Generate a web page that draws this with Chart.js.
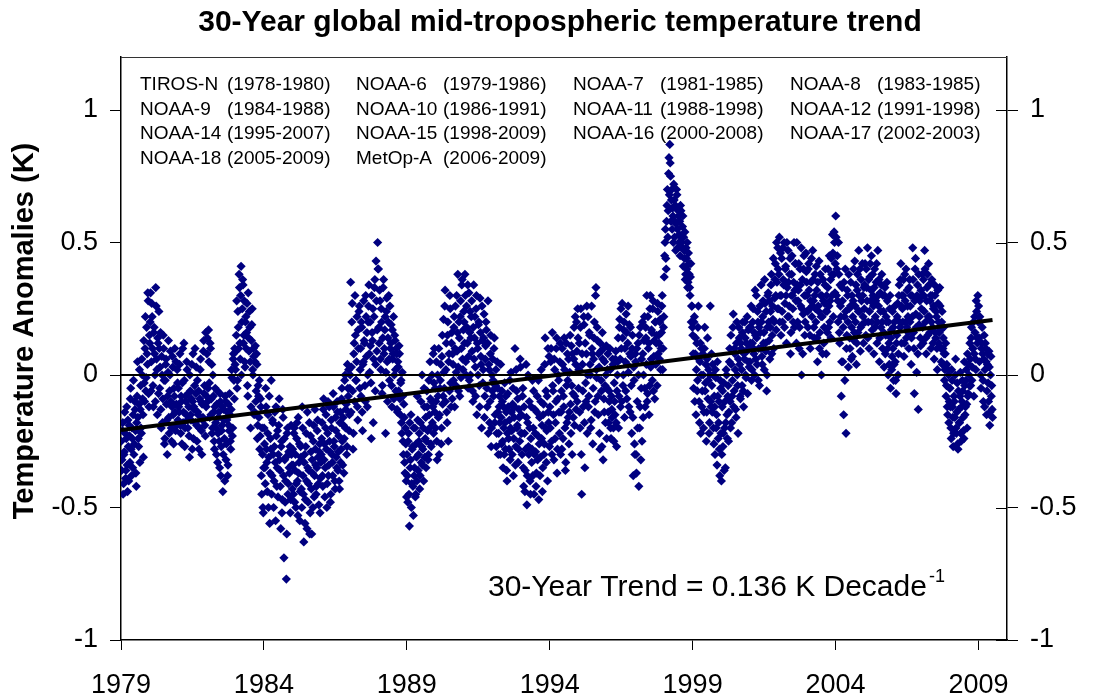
<!DOCTYPE html>
<html>
<head>
<meta charset="utf-8">
<title>30-Year global mid-tropospheric temperature trend</title>
<script src="https://cdn.jsdelivr.net/npm/chart.js@4"></script>
<style>
  html, body { margin: 0; padding: 0; background: #fff; }
</style>
</head>
<body>
<canvas id="myChart" width="1097" height="700"></canvas>
<script>
// MSU mid-troposphere anomalies (K), pentad values.
// yNNNN holds the odd pentads of a year, hNNNN the even ones.
const y1979 = [-0.25,-0.32,-0.18,-0.41,-0.29,-0.22,-0.36,-0.12,-0.44,-0.27,-0.19,-0.33,
  -0.05,-0.38,-0.24,-0.15,-0.30,-0.10,-0.21,-0.42,-0.08,-0.16,-0.27,0.02,
  -0.13,-0.20,0.06,-0.09,-0.31,-0.03,0.10,-0.06,0.18,0.04,0.28,-0.12];
const h1979 = [-0.36,-0.21,-0.45,-0.30,-0.14,-0.39,-0.24,-0.34,-0.17,-0.40,-0.23,-0.09,
  -0.28,-0.20,-0.35,-0.02,-0.26,-0.13,-0.37,-0.18,0.05,-0.24,-0.11,-0.33,
  -0.04,-0.22,0.00,-0.15,0.13,-0.10,0.22,-0.01,0.08,0.31,-0.07,0.15];
const y1980 = [0.12,0.31,0.05,0.22,-0.04,0.16,0.08,-0.10,0.26,0.02,0.14,-0.07,
  0.10,0.03,-0.13,0.07,-0.18,0.15,-0.02,-0.24,0.04,-0.11,-0.30,0.01,
  -0.16,-0.06,0.09,-0.20,-0.12,0.03,-0.26,-0.08,-0.14,0.05,-0.19,-0.03];
const h1980 = [0.20,-0.06,0.27,0.10,-0.12,0.18,0.00,0.33,0.06,-0.15,0.12,0.24,
  -0.05,0.16,-0.20,0.00,-0.09,0.10,-0.26,-0.02,0.06,-0.17,-0.08,0.13,
  -0.22,0.00,-0.10,-0.25,0.07,-0.15,-0.05,0.10,-0.21,-0.11,0.02,-0.17];
const y1981 = [-0.05,-0.14,0.08,-0.22,-0.10,-0.03,-0.18,0.12,-0.27,-0.08,-0.15,0.02,
  -0.20,-0.12,-0.31,-0.06,-0.17,0.04,-0.10,-0.24,-0.13,0.10,-0.07,-0.19,
  -0.02,-0.15,-0.28,-0.09,0.06,-0.21,-0.11,-0.16,0.13,-0.04,-0.23,-0.12];
const h1981 = [-0.12,0.04,-0.19,-0.08,-0.26,0.10,-0.14,-0.02,-0.20,-0.10,0.05,-0.17,
  -0.07,-0.23,0.00,-0.15,-0.09,-0.28,0.08,-0.12,-0.04,-0.18,0.03,-0.25,
  -0.14,-0.06,-0.20,0.02,-0.10,-0.30,-0.17,0.09,-0.07,-0.19,0.16,-0.08];
const y1982 = [0.08,-0.10,0.17,-0.03,0.12,-0.15,0.04,-0.20,-0.08,-0.25,-0.12,-0.18,
  -0.30,-0.06,-0.22,-0.14,-0.35,-0.10,-0.27,-0.19,-0.44,-0.13,-0.24,-0.08,
  -0.32,-0.17,-0.38,-0.11,-0.21,-0.15,-0.28,0.02,-0.23,0.06,-0.02,0.10];
const h1982 = [0.14,-0.05,0.05,-0.16,0.10,-0.09,-0.22,0.00,-0.14,-0.28,-0.05,-0.20,
  -0.11,-0.33,-0.16,-0.25,-0.07,-0.38,-0.21,-0.12,-0.30,-0.17,-0.40,-0.10,
  -0.26,-0.14,-0.34,-0.19,-0.07,-0.25,-0.13,-0.01,-0.20,0.08,-0.09,0.04];
const y1983 = [0.02,0.15,-0.05,0.24,0.10,0.33,0.06,0.41,0.20,0.36,0.12,0.28,
  0.03,0.22,0.16,-0.04,0.31,0.09,0.18,-0.20,0.13,0.25,0.00,0.07,
  -0.14,0.11,-0.06,0.04,-0.19,-0.08,-0.02,-0.23,-0.12,-0.45,-0.30,-0.52];
const h1983 = [0.09,0.28,-0.02,0.18,0.38,0.12,0.30,0.00,0.25,0.34,0.15,0.05,
  0.20,0.10,0.27,-0.08,0.14,0.24,0.05,-0.12,0.19,0.02,0.10,-0.15,
  0.05,-0.10,0.08,-0.24,-0.04,-0.16,-0.28,-0.09,-0.38,-0.20,-0.50,-0.35];
const y1984 = [-0.20,-0.35,-0.05,-0.28,-0.44,-0.15,-0.31,-0.56,-0.24,-0.02,-0.38,-0.18,
  -0.50,-0.27,-0.33,-0.12,-0.42,-0.21,-0.30,-0.09,-0.36,-0.58,-0.25,-0.47,
  -0.16,-0.69,-0.32,-0.40,-0.77,-0.22,-0.45,-0.29,-0.37,-0.52,-0.19,-0.34];
const h1984 = [-0.26,-0.41,-0.12,-0.33,-0.22,-0.50,-0.08,-0.37,-0.28,-0.45,-0.17,-0.30,
  -0.40,-0.14,-0.55,-0.23,-0.35,-0.46,-0.19,-0.32,-0.42,-0.27,-0.52,-0.13,
  -0.38,-0.24,-0.48,-0.31,-0.60,-0.20,-0.41,-0.35,-0.27,-0.47,-0.30,-0.43];
const y1985 = [-0.28,-0.45,-0.20,-0.36,-0.50,-0.24,-0.40,-0.16,-0.33,-0.55,-0.27,-0.43,
  -0.12,-0.38,-0.63,-0.30,-0.47,-0.22,-0.58,-0.35,-0.41,-0.18,-0.52,-0.29,
  -0.60,-0.37,-0.25,-0.46,-0.13,-0.34,-0.42,-0.21,-0.31,-0.49,-0.26,-0.39];
const h1985 = [-0.34,-0.22,-0.48,-0.30,-0.41,-0.18,-0.53,-0.37,-0.26,-0.44,-0.31,-0.50,
  -0.20,-0.45,-0.33,-0.56,-0.27,-0.40,-0.14,-0.48,-0.36,-0.60,-0.23,-0.43,
  -0.32,-0.50,-0.19,-0.38,-0.28,-0.45,-0.35,-0.17,-0.41,-0.29,-0.52,-0.33];
const y1986 = [-0.30,-0.18,-0.42,-0.09,-0.26,-0.35,-0.15,-0.50,-0.22,-0.38,-0.12,-0.29,
  -0.45,-0.20,-0.33,-0.07,-0.25,-0.40,-0.16,-0.31,-0.10,-0.36,-0.23,-0.43,
  -0.14,-0.28,-0.05,-0.34,-0.19,-0.24,0.00,-0.13,-0.30,0.04,-0.08,-0.21];
const h1986 = [-0.24,-0.38,-0.13,-0.32,-0.46,-0.20,-0.28,-0.41,-0.10,-0.34,-0.25,-0.48,
  -0.17,-0.30,-0.38,-0.12,-0.27,-0.43,-0.21,-0.35,-0.14,-0.29,-0.40,-0.18,
  -0.33,-0.09,-0.25,-0.16,-0.37,-0.02,-0.20,-0.11,-0.27,-0.05,0.02,-0.15];
const y1987 = [-0.05,0.35,0.03,0.27,-0.28,0.08,-0.10,0.15,-0.02,0.22,-0.17,0.10,
  0.26,0.02,-0.08,0.18,-0.21,0.05,0.13,-0.04,0.30,0.07,-0.12,0.20,
  0.34,0.01,0.11,-0.24,0.16,0.25,0.06,0.33,-0.06,0.43,0.09,0.50];
const h1987 = [0.00,-0.14,0.20,-0.06,-0.22,0.12,0.30,-0.02,0.05,-0.12,0.17,0.24,
  -0.05,0.10,0.20,-0.14,0.04,0.28,0.12,-0.10,0.22,0.16,0.00,0.26,
  0.08,0.20,-0.03,0.30,0.13,-0.18,0.22,0.36,0.04,0.28,0.17,0.40];
const y1988 = [0.40,0.12,0.28,0.02,0.20,-0.04,0.33,0.08,0.17,-0.22,0.24,0.05,
  0.14,0.30,-0.02,0.10,0.19,-0.12,0.06,0.22,0.00,0.13,-0.06,0.08,
  -0.14,0.03,0.11,-0.09,-0.03,-0.18,0.01,-0.25,-0.11,-0.33,-0.20,-0.40];
const h1988 = [0.18,0.32,0.06,0.25,-0.07,0.14,0.36,0.10,0.22,0.01,0.29,-0.10,
  0.20,0.06,0.26,0.12,-0.04,0.17,0.08,-0.09,0.15,0.02,0.10,-0.13,
  0.05,-0.06,0.08,-0.15,-0.02,-0.22,-0.08,-0.30,-0.16,-0.37,-0.26,-0.46];
const y1989 = [-0.30,-0.48,-0.22,-0.57,-0.35,-0.15,-0.41,-0.27,-0.53,-0.38,-0.20,-0.45,
  -0.31,-0.08,-0.36,-0.25,-0.43,-0.18,-0.33,0.00,-0.28,-0.40,-0.12,-0.24,
  -0.35,-0.06,-0.21,-0.30,-0.15,0.05,-0.26,-0.10,-0.18,0.08,-0.03,-0.14];
const h1989 = [-0.38,-0.25,-0.45,-0.18,-0.32,-0.50,-0.28,-0.42,-0.20,-0.35,-0.46,-0.26,
  -0.40,-0.17,-0.30,-0.22,-0.38,-0.10,-0.27,-0.34,-0.20,-0.05,-0.31,-0.16,
  -0.25,-0.12,-0.32,-0.02,-0.20,-0.09,-0.27,0.00,-0.12,-0.22,0.10,-0.05];
const y1990 = [-0.20,0.05,-0.32,-0.08,0.10,-0.15,-0.02,-0.26,0.07,-0.11,0.21,-0.05,
  0.32,0.02,-0.14,0.15,-0.25,0.08,0.30,-0.03,0.12,-0.09,0.04,0.18,
  -0.12,0.26,0.01,0.09,0.38,-0.06,0.14,0.22,-0.01,0.34,0.06,0.17];
const h1990 = [-0.10,-0.25,0.00,-0.16,-0.30,-0.05,0.04,-0.20,0.15,-0.08,0.01,0.26,
  -0.10,0.12,-0.18,0.20,0.05,-0.06,0.25,-0.12,0.16,0.08,-0.02,0.22,
  0.10,-0.04,0.30,0.16,0.03,0.20,-0.08,0.28,0.10,0.36,0.02,0.24];
const y1991 = [0.20,0.38,0.05,0.26,0.12,-0.05,0.31,0.16,0.00,0.22,0.09,-0.10,
  0.34,0.14,0.03,0.25,-0.15,0.10,0.19,-0.04,0.29,0.07,-0.20,0.13,
  0.02,0.23,-0.08,0.11,0.17,-0.12,0.28,0.04,-0.18,0.08,-0.27,0.00];
const h1991 = [0.12,0.30,0.00,0.18,0.34,0.07,-0.02,0.24,0.14,0.28,-0.06,0.18,
  0.06,0.22,-0.08,0.30,0.12,0.00,0.20,-0.12,0.16,0.04,0.26,-0.03,
  0.14,-0.16,0.06,0.20,-0.05,0.12,-0.22,0.02,-0.10,0.15,-0.20,-0.06];
const y1992 = [0.06,-0.08,0.14,-0.15,0.02,-0.22,-0.05,-0.30,-0.12,-0.18,0.04,-0.26,
  -0.10,-0.35,-0.20,-0.03,-0.28,-0.14,-0.40,-0.07,-0.24,-0.17,-0.32,0.01,
  -0.21,-0.11,-0.38,-0.16,0.10,-0.27,-0.06,-0.19,-0.33,-0.13,-0.25,0.03];
const h1992 = [-0.02,0.10,-0.18,-0.04,-0.27,0.05,-0.14,-0.22,-0.08,-0.30,-0.16,-0.06,
  -0.25,-0.12,-0.30,-0.18,-0.08,-0.36,-0.22,-0.12,-0.28,-0.02,-0.20,-0.14,
  -0.30,-0.05,-0.24,-0.12,-0.34,0.02,-0.20,-0.09,-0.28,-0.16,0.06,-0.22];
const y1993 = [-0.15,-0.30,-0.05,-0.42,-0.22,-0.36,0.04,-0.49,-0.18,-0.27,-0.10,-0.40,
  -0.24,-0.33,-0.02,-0.20,-0.45,-0.13,-0.29,-0.37,-0.08,-0.23,-0.47,-0.16,
  -0.31,0.02,-0.19,-0.35,-0.11,-0.26,0.14,-0.06,-0.21,-0.40,-0.14,0.07];
const h1993 = [-0.22,-0.08,-0.35,-0.12,-0.44,-0.28,-0.16,-0.38,0.00,-0.30,-0.20,-0.45,
  -0.12,-0.28,-0.38,-0.06,-0.30,-0.22,-0.42,-0.14,-0.32,-0.02,-0.26,-0.38,
  -0.10,-0.24,-0.44,-0.15,-0.30,0.04,-0.20,-0.33,-0.08,0.10,-0.18,-0.27];
const y1994 = [-0.12,0.05,-0.25,0.16,-0.06,-0.32,0.02,-0.18,0.10,-0.37,-0.09,-0.02,
  -0.22,0.12,-0.14,-0.28,0.04,-0.08,0.14,-0.20,-0.33,-0.04,0.08,-0.16,
  -0.26,0.01,-0.11,0.11,-0.30,-0.07,0.06,-0.19,0.22,-0.13,0.09,0.25];
const h1994 = [-0.20,0.10,-0.30,-0.04,-0.15,0.06,-0.24,-0.10,0.14,-0.28,0.00,-0.14,
  0.05,-0.30,-0.06,0.10,-0.24,-0.12,0.02,-0.36,0.12,-0.18,-0.02,0.06,
  -0.14,0.15,-0.22,-0.04,0.08,-0.16,0.18,-0.08,0.04,0.20,-0.10,0.14];
const y1995 = [-0.05,0.12,-0.20,0.25,-0.45,0.04,-0.12,0.19,-0.35,-0.03,0.08,-0.22,
  0.22,-0.08,0.15,0.00,-0.17,0.10,-0.26,0.06,0.20,-0.10,0.33,-0.01,
  0.13,-0.15,0.03,-0.28,0.09,-0.06,0.16,-0.32,-0.09,0.05,-0.18,0.11];
const h1995 = [0.02,-0.14,0.18,-0.30,0.08,-0.06,0.22,-0.18,0.12,-0.10,0.26,0.00,
  -0.12,0.16,0.04,-0.20,0.26,0.08,-0.05,0.14,-0.14,0.30,0.02,0.18,
  -0.08,0.08,-0.22,0.12,-0.02,-0.27,0.06,0.10,-0.14,-0.04,0.00,-0.24];
const y1996 = [-0.05,0.08,-0.18,-0.10,0.02,-0.24,-0.13,0.06,-0.20,-0.03,-0.15,0.09,
  -0.27,0.00,0.14,-0.08,0.21,-0.12,0.10,0.27,-0.04,0.17,-0.16,0.05,
  0.23,-0.09,0.12,0.01,0.19,-0.14,0.07,-0.22,0.15,-0.38,-0.02,-0.30];
const h1996 = [0.02,-0.14,-0.06,0.10,-0.20,-0.08,-0.16,0.04,-0.25,-0.10,0.06,-0.18,
  -0.06,0.05,-0.20,0.18,0.06,0.25,-0.10,0.14,0.00,0.20,0.10,-0.06,
  0.16,0.04,0.26,-0.12,0.08,0.18,-0.04,0.10,-0.16,0.03,-0.26,0.08];
const y1997 = [0.05,-0.37,-0.10,0.12,-0.42,-0.20,0.18,-0.05,-0.25,0.08,0.00,0.22,
  -0.12,0.14,0.30,-0.07,0.10,-0.15,0.25,0.03,0.17,-0.02,0.28,0.07,
  -0.09,0.20,0.12,-0.04,0.24,0.15,0.06,0.21,0.10,0.26,0.02,0.18];
const h1997 = [-0.30,0.10,-0.20,0.00,0.15,-0.12,-0.32,0.06,0.20,-0.16,0.13,-0.05,
  0.18,0.04,-0.10,0.22,0.12,-0.04,0.30,0.06,0.16,0.25,-0.06,0.13,
  0.20,0.04,0.15,0.27,0.08,0.12,0.20,0.02,0.16,0.30,0.10,0.22];
const y1998 = [0.37,0.50,0.44,0.58,0.70,0.62,0.82,0.87,0.75,0.66,0.55,0.60,
  0.72,0.52,0.64,0.57,0.68,0.48,0.60,0.53,0.45,0.62,0.50,0.56,
  0.41,0.47,0.54,0.38,0.44,0.50,0.35,0.42,0.33,0.37,0.20,0.26];
const h1998 = [0.45,0.55,0.40,0.64,0.52,0.76,0.68,0.80,0.58,0.70,0.63,0.50,
  0.66,0.58,0.47,0.70,0.55,0.62,0.50,0.58,0.64,0.52,0.48,0.60,
  0.52,0.44,0.36,0.48,0.40,0.33,0.46,0.38,0.30,0.42,0.26,0.18];
const y1999 = [0.15,-0.05,0.22,0.08,-0.15,0.12,-0.02,0.26,-0.10,0.05,-0.22,0.10,
  -0.06,0.00,-0.14,0.18,-0.03,-0.25,0.06,-0.09,0.02,-0.18,0.26,-0.12,
  -0.04,0.04,-0.20,-0.08,-0.30,-0.01,-0.15,0.05,-0.24,-0.10,-0.38,-0.05];
const h1999 = [0.08,0.20,-0.10,0.14,0.02,-0.06,0.18,0.06,-0.18,0.12,0.00,-0.12,
  0.08,-0.20,0.10,-0.06,0.04,-0.14,0.14,-0.02,-0.22,0.00,-0.10,0.08,
  -0.14,0.00,-0.26,-0.12,0.02,-0.20,-0.34,-0.08,-0.18,-0.28,-0.02,-0.22];
const y2000 = [-0.40,-0.12,-0.27,-0.03,-0.20,-0.35,0.02,-0.15,-0.08,-0.25,0.05,-0.10,
  0.15,-0.18,-0.02,0.23,-0.06,0.08,-0.13,0.12,0.00,-0.22,0.18,0.04,
  -0.09,0.10,-0.04,0.20,-0.12,0.06,0.14,-0.01,0.09,-0.07,0.17,0.03];
const h2000 = [-0.30,-0.06,-0.22,-0.36,-0.10,-0.18,0.00,-0.24,-0.04,-0.14,0.10,-0.20,
  0.04,-0.08,0.18,-0.12,0.10,0.02,-0.16,0.20,-0.04,0.06,0.14,-0.08,
  0.12,0.02,0.16,-0.06,0.08,0.20,0.00,0.12,0.22,0.05,0.10,0.18];
const y2001 = [0.05,0.18,-0.02,0.12,0.25,0.08,0.00,0.15,0.30,0.04,0.20,0.10,
  -0.04,0.16,0.34,0.07,0.22,0.12,0.02,0.27,0.09,-0.06,0.18,0.31,
  0.13,0.06,0.24,0.38,0.15,0.21,0.10,0.29,0.42,0.17,0.35,0.48];
const h2001 = [0.12,0.26,0.02,0.20,0.10,0.16,0.32,0.06,0.14,0.24,-0.02,0.18,
  0.26,0.10,0.20,0.04,0.28,0.16,0.36,0.12,0.24,0.00,0.30,0.20,
  0.28,0.18,0.34,0.08,0.26,0.44,0.20,0.36,0.30,0.50,0.25,0.40];
const y2002 = [0.25,0.52,0.30,0.15,0.44,0.20,0.36,0.50,0.27,0.41,0.12,0.33,
  0.47,0.22,0.38,0.08,0.30,0.45,0.25,0.35,0.18,0.42,0.28,0.50,
  0.20,0.32,0.10,0.40,0.26,0.00,0.36,0.23,0.45,0.15,0.30,0.39];
const h2002 = [0.38,0.20,0.46,0.30,0.24,0.48,0.34,0.18,0.40,0.30,0.50,0.22,
  0.35,0.26,0.44,0.16,0.38,0.30,0.20,0.50,0.32,0.42,0.12,0.34,
  0.28,0.42,0.18,0.34,0.48,0.25,0.08,0.40,0.30,0.20,0.46,0.35];
const y2003 = [0.30,0.18,0.42,0.25,0.10,0.35,0.22,0.47,0.28,0.14,0.38,0.20,
  0.32,0.05,0.26,0.43,0.16,0.30,0.00,0.22,0.36,0.12,0.27,0.40,
  0.08,0.24,0.33,0.18,0.45,0.28,0.14,0.38,0.53,0.22,0.54,0.31];
const h2003 = [0.24,0.40,0.32,0.15,0.28,0.44,0.26,0.36,0.18,0.30,0.25,0.41,
  0.14,0.35,0.24,0.10,0.38,0.22,0.30,0.08,0.28,0.18,0.34,0.24,
  0.30,0.16,0.40,0.26,0.20,0.36,0.44,0.30,0.46,0.38,0.50,0.42];
const y2004 = [0.60,0.30,0.45,0.20,0.38,0.12,0.26,-0.08,0.33,0.05,-0.15,0.22,
  0.40,-0.22,0.15,0.30,0.03,0.25,0.10,0.35,0.18,0.07,0.28,0.13,
  0.43,0.20,0.04,0.32,0.16,0.47,0.24,0.09,0.36,0.19,0.30,0.12];
const h2004 = [0.52,0.40,0.28,0.50,0.16,0.34,0.22,0.05,0.28,0.18,0.35,-0.02,
  0.24,0.10,0.32,0.20,0.38,0.14,0.26,0.06,0.30,0.22,0.40,0.16,
  0.26,0.34,0.12,0.38,0.24,0.30,0.40,0.18,0.28,0.42,0.22,0.33];
const y2005 = [0.25,0.42,0.15,0.33,0.48,0.20,0.10,0.37,0.28,0.45,0.17,0.30,
  0.08,0.40,0.22,0.35,0.12,0.47,0.26,0.05,0.31,0.18,0.38,0.10,
  0.24,0.03,0.33,0.15,0.20,0.28,0.00,0.12,0.25,-0.05,0.17,0.07];
const h2005 = [0.34,0.20,0.40,0.28,0.14,0.36,0.24,0.42,0.32,0.20,0.38,0.26,
  0.33,0.18,0.28,0.42,0.20,0.30,0.36,0.14,0.24,0.34,0.20,0.30,
  0.16,0.30,0.08,0.22,0.35,0.10,0.20,0.04,0.30,0.14,0.02,0.24];
const y2006 = [0.10,-0.02,0.20,0.05,-0.07,0.15,0.27,0.08,0.34,0.18,0.42,0.12,
  0.25,0.30,0.07,0.38,0.20,0.14,0.32,0.22,0.10,0.36,0.26,0.04,
  0.30,0.48,0.16,-0.07,0.40,0.23,0.01,0.34,-0.13,0.19,0.28,0.11];
const h2006 = [0.18,0.04,0.26,-0.02,0.12,0.22,0.00,0.30,0.20,0.36,0.26,0.30,
  0.20,0.36,0.12,0.28,0.40,0.18,0.26,0.16,0.33,0.20,0.30,0.14,
  0.22,0.36,0.10,0.28,0.44,0.18,0.30,0.08,0.38,0.22,0.14,0.32];
const y2007 = [0.25,0.38,0.12,0.30,0.47,0.20,0.08,0.33,0.15,0.42,0.22,0.28,
  0.10,0.36,0.18,0.25,0.06,0.30,0.14,0.22,0.02,0.27,0.12,0.33,
  0.17,0.05,0.24,0.10,0.18,-0.02,0.08,-0.08,0.04,-0.15,0.00,-0.10];
const h2007 = [0.30,0.18,0.36,0.24,0.40,0.14,0.28,0.38,0.22,0.34,0.16,0.30,
  0.20,0.30,0.12,0.26,0.34,0.16,0.24,0.10,0.32,0.20,0.16,0.26,
  0.10,0.20,0.04,0.14,0.08,0.02,0.12,-0.04,-0.12,0.02,-0.18,-0.05];
const y2008 = [-0.05,-0.20,0.02,-0.12,-0.27,-0.08,-0.16,0.06,-0.22,-0.03,-0.28,-0.13,
  -0.18,0.01,-0.25,-0.10,-0.06,-0.21,0.05,-0.15,-0.02,-0.11,0.08,-0.07,
  0.00,0.12,-0.04,0.18,0.03,0.10,-0.08,0.22,0.06,0.28,0.14,0.30];
const h2008 = [-0.12,-0.24,-0.02,-0.16,-0.22,-0.10,0.00,-0.20,-0.14,-0.26,-0.06,-0.18,
  -0.08,-0.22,-0.12,-0.02,-0.16,-0.24,-0.04,-0.12,0.02,-0.20,-0.08,0.04,
  -0.04,0.06,0.14,-0.02,0.10,0.20,0.08,0.16,0.02,0.24,0.12,0.20];
const y2009 = [0.26,0.05,0.20,-0.05,0.12,0.08,-0.10,0.15,0.02,0.10,-0.15,0.04,
  -0.03,0.09,-0.19,0.00,-0.08,-0.13];
const h2009 = [0.14,0.22,0.00,0.10,0.18,-0.02,0.06,-0.12,0.12,0.05,-0.06,0.08,
  -0.10,0.03,-0.14,0.07,-0.04,-0.16];

const years = [1979,1980,1981,1982,1983,1984,1985,1986,1987,1988,1989,1990,1991,1992,1993,
  1994,1995,1996,1997,1998,1999,2000,2001,2002,2003,2004,2005,2006,2007,2008,2009];
const oddPentads = [y1979,y1980,y1981,y1982,y1983,y1984,y1985,y1986,y1987,y1988,y1989,y1990,
  y1991,y1992,y1993,y1994,y1995,y1996,y1997,y1998,y1999,y2000,y2001,y2002,y2003,y2004,
  y2005,y2006,y2007,y2008,y2009];
const evenPentads = [h1979,h1980,h1981,h1982,h1983,h1984,h1985,h1986,h1987,h1988,h1989,h1990,
  h1991,h1992,h1993,h1994,h1995,h1996,h1997,h1998,h1999,h2000,h2001,h2002,h2003,h2004,
  h2005,h2006,h2007,h2008,h2009];
const pentadsPerYear = 72;

const xTicks = [1979, 1984, 1989, 1994, 1999, 2004, 2009];
const yTicks = [-1, -0.5, 0, 0.5, 1];
const trendPerDecade = 0.136;

const satNames = ['TIROS-N', 'NOAA-6', 'NOAA-7', 'NOAA-8',
  'NOAA-9', 'NOAA-10', 'NOAA-11', 'NOAA-12',
  'NOAA-14', 'NOAA-15', 'NOAA-16', 'NOAA-17',
  'NOAA-18', 'MetOp-A'];
const satPeriods = ['(1978-1980)', '(1979-1986)', '(1981-1985)', '(1983-1985)',
  '(1984-1988)', '(1986-1991)', '(1988-1998)', '(1991-1998)',
  '(1995-2007)', '(1998-2009)', '(2000-2008)', '(2002-2003)',
  '(2005-2009)', '(2006-2009)'];

// scatter points, odd and even pentads interleaved in time
const points = [];
years.forEach(function (yr, k) {
  oddPentads[k].forEach(function (v, i) {
    points.push({ x: yr + (2 * i + 0.5) / pentadsPerYear, y: v });
    const w = evenPentads[k][i];
    if (w !== undefined) points.push({ x: yr + (2 * i + 1.5) / pentadsPerYear, y: w });
  });
});

const xFirst = years[0];
const xLast = points[points.length - 1].x;
const xMid = (xFirst + xLast) / 2;

function trendAt(x) {
  return trendPerDecade / 10 * (x - xMid);
}

const trendLine = [{ x: xFirst, y: trendAt(xFirst) }, { x: xLast, y: trendAt(xLast) }];
const zeroLine = [{ x: xFirst, y: 0 }, { x: xLast, y: 0 }];

// box top, inner halves of the right ticks and all the free text
const decorations = {
  id: 'decorations',
  afterDraw(chart) {
    const ctx = chart.ctx;
    const a = chart.chartArea;
    ctx.save();

    ctx.strokeStyle = '#333';
    ctx.lineWidth = 1;
    ctx.beginPath();
    ctx.moveTo(a.left, a.top + 0.5);
    ctx.lineTo(a.right, a.top + 0.5);
    ctx.stroke();

    const y2 = chart.scales.y2;
    ctx.strokeStyle = '#000';
    y2.ticks.forEach(function (t) {
      const py = Math.round(y2.getPixelForValue(t.value)) + 0.5;
      ctx.beginPath();
      ctx.moveTo(a.right - 11, py);
      ctx.lineTo(a.right, py);
      ctx.stroke();
    });

    ctx.fillStyle = '#000';
    ctx.textBaseline = 'alphabetic';

    // satellite list, four per row
    ctx.font = '19px Arial';
    ctx.textAlign = 'left';
    const colX = [19, 235, 452, 669];
    satNames.forEach(function (name, i) {
      const x = a.left + colX[i % 4];
      const y = a.top + 33 + Math.floor(i / 4) * 24.7;
      ctx.fillText(name, x, y);
      ctx.fillText(satPeriods[i], x + 87, y);
    });

    // trend annotation
    ctx.font = '30px Arial';
    const label = '30-Year Trend = ' + trendPerDecade.toFixed(3) + ' K Decade';
    const tx = 488, ty = 596;
    ctx.fillText(label, tx, ty);
    const w = ctx.measureText(label).width;
    ctx.font = '18px Arial';
    ctx.fillText('-1', tx + w + 2, ty - 14);

    // title
    ctx.font = 'bold 30px Arial';
    ctx.textAlign = 'center';
    ctx.fillText('30-Year global mid-tropospheric temperature trend', 560, 31);

    // y axis title
    ctx.translate(25, 331);
    ctx.rotate(-Math.PI / 2);
    ctx.font = 'bold 29px Arial';
    ctx.textBaseline = 'middle';
    ctx.fillText('Temperature Anomalies (K)', 0, 0);

    ctx.restore();
  }
};

const tickFont = { family: 'Arial', size: 27 };

new Chart(document.getElementById('myChart'), {
  type: 'scatter',
  data: {
    datasets: [{
      label: 'trend',
      data: trendLine,
      showLine: true,
      borderColor: '#000',
      borderWidth: 4,
      pointRadius: 0
    }, {
      label: 'zero',
      data: zeroLine,
      showLine: true,
      borderColor: '#000',
      borderWidth: 2,
      pointRadius: 0
    }, {
      label: 'anomaly',
      data: points,
      pointStyle: 'rectRot',
      pointRadius: 4.6,
      backgroundColor: '#000080',
      borderColor: '#000080',
      borderWidth: 0
    }]
  },
  options: {
    responsive: false,
    animation: false,
    layout: { padding: { top: 57, left: 0, right: 0, bottom: 0 } },
    plugins: {
      legend: { display: false },
      tooltip: { enabled: false }
    },
    scales: {
      x: {
        type: 'linear',
        position: 'bottom',
        min: 1979,
        max: 2010,
        afterBuildTicks: function (s) { s.ticks = xTicks.map(v => ({ value: v })); },
        afterFit: function (s) { s.height = 60; },
        ticks: {
          font: tickFont,
          color: '#000',
          padding: 19,
          maxRotation: 0,
          autoSkip: false,
          callback: v => String(v)
        },
        grid: { drawOnChartArea: false, drawTicks: true, tickLength: 10, color: '#000' },
        border: { color: '#000', width: 1.5 }
      },
      y: {
        type: 'linear',
        position: 'left',
        min: -1,
        max: 1.2,
        afterBuildTicks: function (s) { s.ticks = yTicks.map(v => ({ value: v })); },
        afterFit: function (s) { s.width = 121; },
        ticks: {
          font: tickFont,
          color: '#000',
          padding: 12,
          callback: v => String(v)
        },
        grid: { drawOnChartArea: false, drawTicks: true, tickLength: 11, color: '#000' },
        border: { color: '#000', width: 1.5 }
      },
      y2: {
        type: 'linear',
        position: 'right',
        display: true,
        min: -1,
        max: 1.2,
        afterBuildTicks: function (s) { s.ticks = yTicks.map(v => ({ value: v })); },
        afterFit: function (s) { s.width = 90; },
        ticks: {
          font: tickFont,
          color: '#000',
          padding: 12,
          callback: v => String(v)
        },
        grid: { drawOnChartArea: false, drawTicks: true, tickLength: 11, color: '#000' },
        border: { color: '#000', width: 1.5 }
      }
    }
  },
  plugins: [decorations]
});
</script>
</body>
</html>
